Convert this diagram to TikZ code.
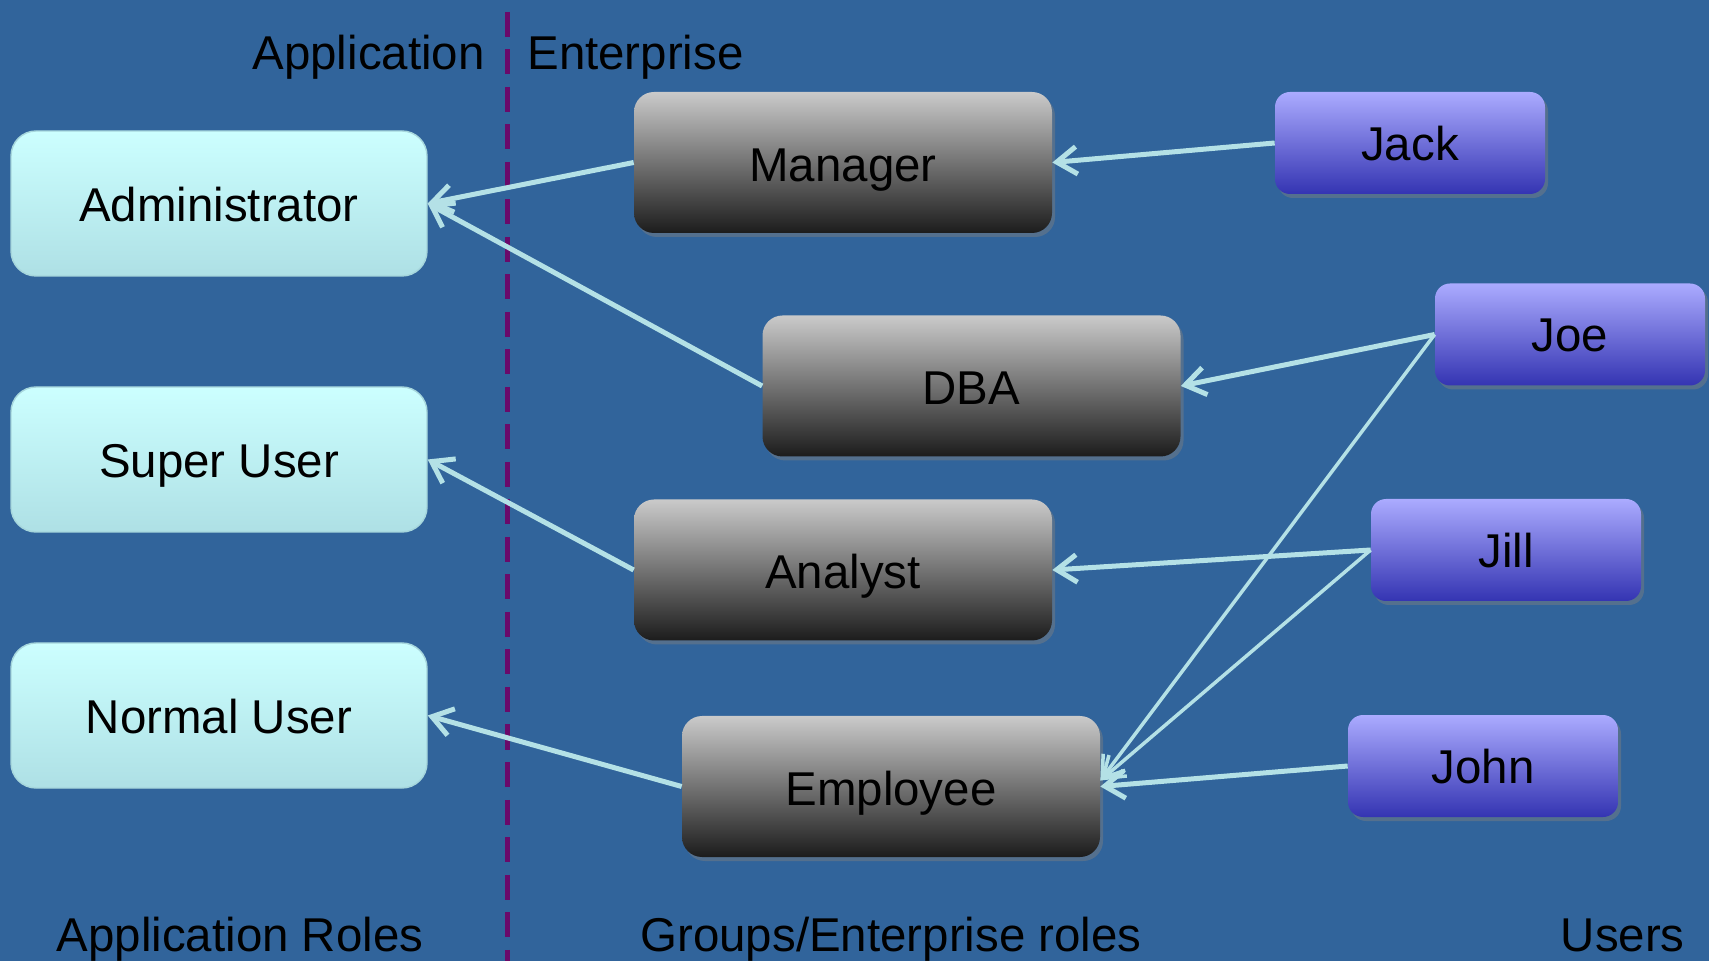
\documentclass[tikz,border=0pt]{standalone}
\usepackage{fontspec}
\setmainfont{Liberation Sans}
\usepackage{tikz}
\usetikzlibrary{arrows.meta,positioning,shadows}

\definecolor{bgblue}{HTML}{31649B}
\definecolor{cyantop}{HTML}{CCFFFF}
\definecolor{cyanbot}{HTML}{AEE0E5}
\definecolor{cyanedge}{HTML}{A6D6DC}
\definecolor{greytop}{HTML}{CACACA}
\definecolor{greymid}{HTML}{8E8E8E}
\definecolor{greybot}{HTML}{1C1C1C}
\definecolor{usertop}{HTML}{ABABFF}
\definecolor{usermid}{HTML}{7272DE}
\definecolor{userbot}{HTML}{3434B2}
\definecolor{linkcol}{HTML}{B4E1E6}
\definecolor{divider}{HTML}{6A0A6A}
\newcommand{\diagfont}{\fontsize{27}{32}\selectfont}

\begin{document}
\begin{tikzpicture}[
    approle/.style={draw=cyanedge, thick, rounded corners=0.5cm, minimum width=8.32cm, minimum height=2.9cm, top color=cyantop, bottom color=cyanbot, font=\diagfont, text height=0.88cm, text depth=0.14cm},
    group/.style={rounded corners=0.4cm, minimum width=8.36cm, minimum height=2.82cm, top color=greytop, middle color=greymid, bottom color=greybot, font=\diagfont, text height=0.9cm, text depth=0.14cm, drop shadow={opacity=0.45, shadow xshift=0.06cm, shadow yshift=-0.08cm}},
    user/.style={rounded corners=0.3cm, minimum width=5.4cm, minimum height=2.04cm, top color=usertop, middle color=usermid, bottom color=userbot, font=\diagfont, text height=0.84cm, text depth=0.14cm, drop shadow={opacity=0.45, shadow xshift=0.06cm, shadow yshift=-0.08cm}},
    link/.style={-{Straight Barb[length=0.4cm, width=0.55cm]}, line width=0.1cm, linkcol},
    thinlink/.style={link, line width=0.07cm},
    caption/.style={font=\diagfont, inner sep=0pt}
]
% background
\fill[bgblue] (0,0) rectangle (34.18,19.22);
\useasboundingbox (0,0) rectangle (34.18,19.22);

% divider
\coordinate (divtop) at (10.14,18.98);
\coordinate (divbot) at (10.14,0);
\draw[divider, line width=0.1cm, dash pattern=on 0.5cm off 0.25cm] (divtop) -- (divbot);

\node[caption, anchor=base east] (applbl) at (9.70,17.82) {Application};
\node[caption, anchor=base west] (entlbl) at (10.54,17.82) {Enterprise};

% application roles
\node[approle] (admin) at (4.38,15.15) {Administrator};
\node[approle] (super) at (4.38,10.03) {Super User};
\node[approle] (normal) at (4.38,4.91) {Normal User};

% groups
\node[group] (manager) at (16.86,15.97) {Manager};
\node[group] (dba) at (19.43,11.50) {DBA};
\node[group] (analyst) at (16.86,7.82) {Analyst};
\node[group] (employee) at (17.82,3.49) {Employee};

% users
\node[user] (jack) at (28.20,16.36) {Jack};
\node[user] (joe) at (31.40,12.53) {Joe};
\node[user] (jill) at (30.12,8.22) {Jill};
\node[user] (john) at (29.66,3.90) {John};

% bottom captions
\node[caption, anchor=base] (rolelbl) at (4.80,0.20) {Application Roles};
\node[caption, anchor=base] (grouplbl) at (17.82,0.20) {Groups/Enterprise roles};
\node[caption, anchor=base east] (userlbl) at (33.70,0.20) {Users};

% links
\draw[link] (manager.west) -- (admin.east);
\draw[link] (dba.west) -- (admin.east);
\draw[link] (analyst.west) -- (super.east);
\draw[link] (employee.west) -- (normal.east);
\draw[link] (jack.west) -- (manager.east);
\draw[link] (joe.west) -- (dba.east);
\draw[link] (jill.west) -- (analyst.east);
\draw[thinlink] (joe.west) -- ([yshift=0.12cm]employee.east);
\draw[thinlink] (jill.west) -- ([yshift=0.12cm]employee.east);
\draw[link] (john.west) -- (employee.east);
\end{tikzpicture}
\end{document}
